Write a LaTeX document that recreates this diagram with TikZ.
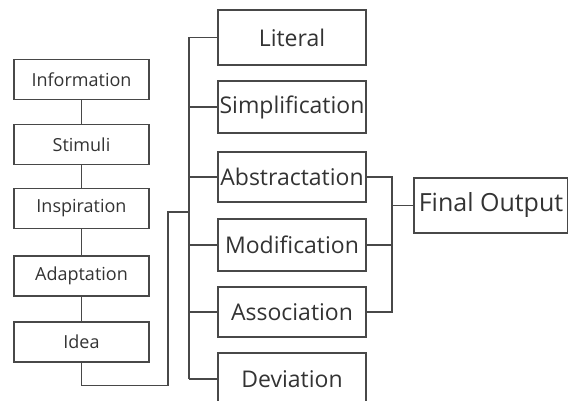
\documentclass[tikz,border=0pt]{standalone}
\usepackage{fontspec}
\setmainfont{Open Sans}
\usepackage{tikz}
\usetikzlibrary{positioning}
\definecolor{linegray}{HTML}{484848}
\definecolor{textgray}{HTML}{333333}

\begin{document}
\begin{tikzpicture}[x=1pt, y=-1pt, line width=1.4pt, draw=linegray]
  % Canvas: 568 x 401, y grows downwards
  \def\W{568}
  \def\H{401}
  \useasboundingbox (0,0) rectangle (\W,\H);

  \tikzset{
    srcbox/.style={draw=linegray, text=textgray, font=\fontsize{18}{20}\selectfont,
      minimum width=135pt, minimum height=40pt, inner sep=0pt},
    modebox/.style={draw=linegray, text=textgray, font=\fontsize{23}{26}\selectfont,
      minimum width=148pt, minimum height=52pt, inner sep=0pt},
    outbox/.style={draw=linegray, text=textgray, font=\fontsize{25}{28}\selectfont,
      minimum width=154pt, minimum height=55pt, inner sep=0pt}
  }

  % Left column: from information to idea
  \node[srcbox] (info) at (81.5,79.5) {Information};
  \node[srcbox] (stim) at (81.5,144.5) {Stimuli};
  \node[srcbox] (insp) at (81.5,208.5) {Inspiration};
  \node[srcbox] (adap) at (81.5,276) {Adaptation};
  \node[srcbox] (idea) at (81.5,342) {Idea};

  % Right column: ways of transforming the idea
  \node[modebox, minimum height=55pt] (lit) at (292,37.5) {Literal};
  \node[modebox] (simp) at (292,107) {Simplification};
  \node[modebox, minimum height=50pt] (abst) at (292,177) {Abstractation};
  \node[modebox] (modi) at (292,245) {Modification};
  \node[modebox, minimum height=50pt] (asso) at (292,312) {Association};
  \node[modebox] (devi) at (292,379) {Deviation};

  % Output
  \node[outbox] (final) at (491,205.5) {Final Output};

  % Chain in the left column
  \draw (info) -- (stim) -- (insp) -- (adap) -- (idea);

  % Idea feeds the branching bus
  \coordinate (turn) at (168,212);
  \coordinate (split) at (189,212);
  \draw (idea.south) -- ++(0,23) -| (turn) -- (split);
  \draw (split |- lit) -- (split |- devi);
  \foreach \n in {lit, simp, abst, modi, asso, devi}
    \draw (split |- \n) -- (\n.west);

  % Three branches merge into the final output
  \coordinate (join) at (392,205.5);
  \foreach \n in {abst, modi, asso}
    \draw (\n.east) -| (join);
  \draw (join) -- (final.west);
\end{tikzpicture}
\end{document}
